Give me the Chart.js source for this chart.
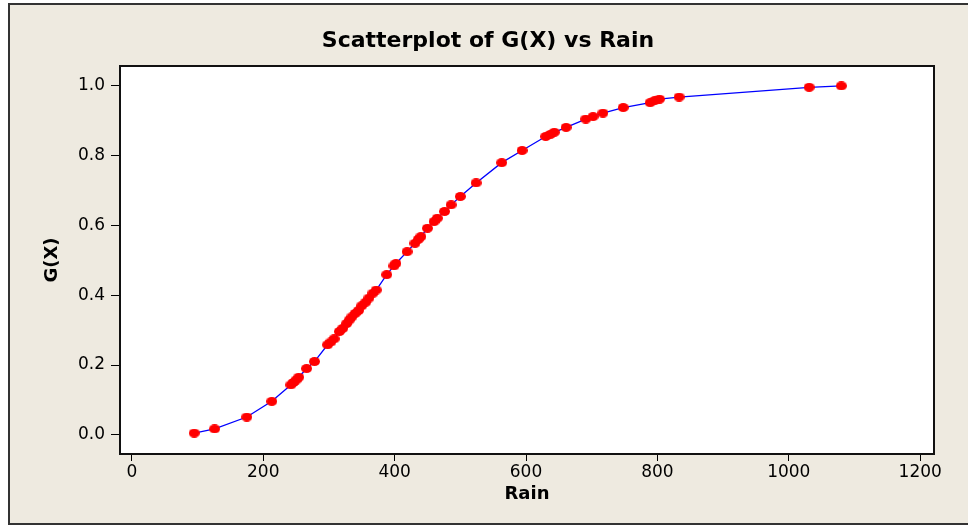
<!DOCTYPE html>
<html>
<head>
<meta charset="utf-8">
<script src="https://cdn.jsdelivr.net/npm/chart.js@4"></script>
<style>
  html, body { margin: 0; padding: 0; background: #fff; }
</style>
</head>
<body>
<canvas id="myChart" width="968" height="527"></canvas>
<script>
const rain = [95, 126, 175, 213, 242, 246, 250, 254, 266, 278, 298, 303, 308, 316, 321,
    327, 331, 335, 340, 345, 350, 356, 361, 367, 372, 388, 399, 402, 419, 431,
    436, 440, 450, 460, 465, 476, 486, 500, 524, 563, 594, 630, 637, 643, 661,
    691, 702, 717, 748, 789, 796, 803, 833, 1031, 1080];
const gx = [0.005, 0.017, 0.051, 0.096, 0.143, 0.150, 0.157, 0.165, 0.190, 0.210, 0.258, 0.266, 0.275, 0.296, 0.305,
    0.319, 0.329, 0.338, 0.348, 0.356, 0.370, 0.380, 0.392, 0.406, 0.415, 0.459, 0.484, 0.491, 0.525, 0.549,
    0.560, 0.568, 0.592, 0.611, 0.621, 0.640, 0.659, 0.683, 0.722, 0.780, 0.815, 0.855, 0.861, 0.867, 0.881,
    0.905, 0.912, 0.922, 0.938, 0.952, 0.958, 0.962, 0.968, 0.996, 1.000];
const xTicks = [0, 200, 400, 600, 800, 1000, 1200];
const yTicks = [0.0, 0.2, 0.4, 0.6, 0.8, 1.0];

// minitab style dots are a bit wider than tall
function makeDot(w, h, color) {
    const c = document.createElement('canvas');
    c.width = w;
    c.height = h;
    const g = c.getContext('2d');
    g.fillStyle = color;
    g.beginPath();
    g.ellipse(w / 2, h / 2, w / 2, h / 2, 0, 0, Math.PI * 2);
    g.fill();
    return c;
}
const dot = makeDot(11, 9, '#ff0000');

const frame = {
    id: 'frame',
    beforeDraw(chart) {
        const { ctx, width, height, chartArea: a } = chart;
        ctx.save();
        ctx.fillStyle = '#ffffff';
        ctx.fillRect(0, 0, width, height);
        ctx.fillStyle = '#eeeae0';
        ctx.fillRect(8, 3, width, 522);
        ctx.strokeStyle = '#333333';
        ctx.lineWidth = 2;
        ctx.beginPath();
        ctx.moveTo(width + 2, 4);
        ctx.lineTo(9, 4);
        ctx.lineTo(9, 524);
        ctx.lineTo(width + 2, 524);
        ctx.stroke();
        ctx.fillStyle = '#ffffff';
        ctx.fillRect(a.left, a.top, a.right - a.left, a.bottom - a.top);
        ctx.restore();
    },
    afterDraw(chart) {
        const { ctx, chartArea: a } = chart;
        ctx.save();
        ctx.strokeStyle = '#111111';
        ctx.lineWidth = 2;
        ctx.strokeRect(a.left, a.top, a.right - a.left, a.bottom - a.top);
        ctx.restore();
    }
};

const tickFont = { family: 'DejaVu Sans', size: 17 };
const labelFont = { family: 'DejaVu Sans', size: 18, weight: 'bold' };

const data = {
    datasets: [{
        label: 'G(X)',
        data: rain.map((r, i) => ({ x: r, y: gx[i] })),
        showLine: true,
        borderColor: '#0000ff',
        borderWidth: 1.3,
        pointStyle: dot,
        pointRadius: 5,
        pointHoverRadius: 5,
        backgroundColor: '#ff0000'
    }]
};

const config = {
    type: 'scatter',
    data: data,
    plugins: [frame],
    options: {
        responsive: false,
        animation: false,
        devicePixelRatio: 1,
        layout: { padding: { left: 42, right: 34, top: 0, bottom: 0 }, autoPadding: false },
        plugins: {
            legend: { display: false },
            tooltip: { enabled: false },
            title: {
                display: true,
                text: 'Scatterplot of G(X) vs Rain',
                color: '#000',
                font: { family: 'DejaVu Sans', size: 22, weight: 'bold' },
                padding: { top: 28, bottom: 11.6 }
            }
        },
        scales: {
            x: {
                type: 'linear',
                min: -18,
                max: 1221,
                afterBuildTicks: s => { s.ticks = xTicks.map(v => ({ value: v })); },
                afterFit: s => { s.height = 73; },
                ticks: { color: '#000', font: tickFont, padding: 1, maxRotation: 0, autoSkip: false, callback: v => String(v) },
                grid: { drawOnChartArea: false, drawTicks: true, tickLength: 7, color: '#000' },
                border: { display: false },
                title: { display: true, text: 'Rain', color: '#000', font: labelFont, padding: { top: 0, bottom: 22 } }
            },
            y: {
                type: 'linear',
                min: -0.055,
                max: 1.057,
                afterBuildTicks: s => { s.ticks = yTicks.map(v => ({ value: v })); },
                afterFit: s => { s.width = 78; },
                ticks: { color: '#000', font: tickFont, padding: 6, autoSkip: false, callback: v => v.toFixed(1) },
                grid: { drawOnChartArea: false, drawTicks: true, tickLength: 9, color: '#000' },
                border: { display: false },
                title: { display: true, text: 'G(X)', color: '#000', font: labelFont, padding: { top: 0, bottom: 0 } }
            }
        }
    }
};

const chart = new Chart(document.getElementById('myChart'), config);
</script>
</body>
</html>
